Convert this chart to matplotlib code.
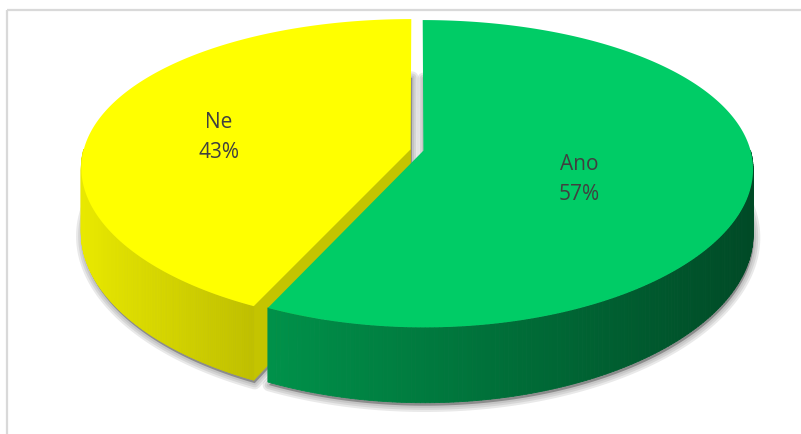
import numpy as np
import matplotlib
matplotlib.use('Agg')
import matplotlib.pyplot as plt
from matplotlib.patches import Polygon, Rectangle
from matplotlib.collections import PolyCollection

# Data
labels = ['Ano', 'Ne']
values = [57, 43]
top_colors = ['#00CC66', '#FFFF00']
side_left = [(0.0, 0.57, 0.29), (0.91, 0.91, 0.0)]
side_right = [(0.0, 0.29, 0.15), (0.75, 0.75, 0.0)]
cut_colors = ['#007A3D', '#C4C400']
label_pos = [(579, 165), (219, 123)]

# Projection of the 3D pie (pixel space, mild perspective)
CX, CY = 417, 150
A, B = 327, 150
PX, PY = 0.12, 0.15
THICK = 64
EXPLODE = 0.02


def proj(u, v, depth=0.0):
    return (CX + A * u / (1 + PX * v),
            CY - B * v / (1 + PY * v) + depth / (1 + PY * v))


def front_ranges(lo, hi):
    out = []
    for k in range(-2, 3):
        a, b = max(lo, -180 + 360 * k), min(hi, 360 * k)
        if b > a:
            out.append((a, b))
    return out


fig = plt.figure(figsize=(8.01, 4.34), dpi=100)
ax = fig.add_axes([0, 0, 1, 1])
ax.set_xlim(0, 801)
ax.set_ylim(434, 0)
ax.axis('off')

# chart frame
ax.add_patch(Rectangle((7, 10), 820, 460, fill=False, edgecolor='#D9D9D9', lw=1.6))

total = sum(values)
slices = []
start = 90.0
for i, val in enumerate(values):
    sweep = 360.0 * val / total
    t_hi, t_lo = start, start - sweep
    mid = np.radians((t_hi + t_lo) / 2)
    du, dv = EXPLODE * np.cos(mid), EXPLODE * np.sin(mid)
    slices.append((i, t_lo, t_hi, du, dv))
    start = t_lo

# soft shadows under each slice
for i, t_lo, t_hi, du, dv in slices:
    ts = np.radians(np.linspace(t_lo, t_hi, 200))
    xs, ys = proj(du + np.cos(ts), dv + np.sin(ts), THICK)
    cx0, cy0 = proj(du, dv, THICK)
    pts = np.column_stack([np.r_[cx0, xs], np.r_[cy0, ys]]) + [1, 3]
    for lw in [9, 6, 3]:
        ax.add_patch(Polygon(pts, closed=True, facecolor='none', edgecolor='#555555',
                             alpha=0.13, lw=lw, joinstyle='round'))
    ax.add_patch(Polygon(pts, closed=True, facecolor='#555555', edgecolor='none', alpha=0.5))

# draw yellow (back) first, then green
for i, t_lo, t_hi, du, dv in sorted(slices, key=lambda s: -s[0]):
    ctop = proj(du, dv)
    cbot = proj(du, dv, THICK)
    # radial cut faces
    for t, normal in [(t_lo, t_lo - 90), (t_hi, t_hi + 90)]:
        if -np.sin(np.radians(normal)) > 0.05:
            tr = np.radians(t)
            rx, ry = proj(du + np.cos(tr), dv + np.sin(tr))
            rbx, rby = proj(du + np.cos(tr), dv + np.sin(tr), THICK)
            ax.add_patch(Polygon([ctop, (rx, ry), (rbx, rby), cbot], closed=True,
                                 facecolor=cut_colors[i], edgecolor=cut_colors[i], lw=0.5))
    # curved outer side with gradient
    for a, b in front_ranges(t_lo, t_hi):
        ts = np.radians(np.linspace(a, b, 160))
        xt, yt = proj(du + np.cos(ts), dv + np.sin(ts))
        xb, yb = proj(du + np.cos(ts), dv + np.sin(ts), THICK)
        quads, cols = [], []
        for k in range(len(ts) - 1):
            quads.append([(xt[k], yt[k]), (xt[k + 1], yt[k + 1]),
                          (xb[k + 1], yb[k + 1]), (xb[k], yb[k])])
            f = (xt[k] - xt[0]) / (xt[-1] - xt[0])
            cols.append(tuple(np.array(side_left[i]) * (1 - f) + np.array(side_right[i]) * f))
        ax.add_collection(PolyCollection(quads, facecolors=cols, edgecolors=cols, linewidths=0.6))
    # top face
    ts = np.radians(np.linspace(t_lo, t_hi, 300))
    xs, ys = proj(du + np.cos(ts), dv + np.sin(ts))
    ax.add_patch(Polygon(np.column_stack([np.r_[ctop[0], xs], np.r_[ctop[1], ys]]),
                         closed=True, facecolor=top_colors[i], edgecolor='none'))

# labels
for i, (lx, ly) in enumerate(label_pos):
    ax.text(lx, ly, labels[i], ha='center', va='center', fontsize=15,
            family='Open Sans', color='#404040')
    ax.text(lx, ly + 29, f'{values[i]}%', ha='center', va='center', fontsize=15,
            family='Open Sans', color='#404040')

fig.savefig('out.png', dpi=100)
